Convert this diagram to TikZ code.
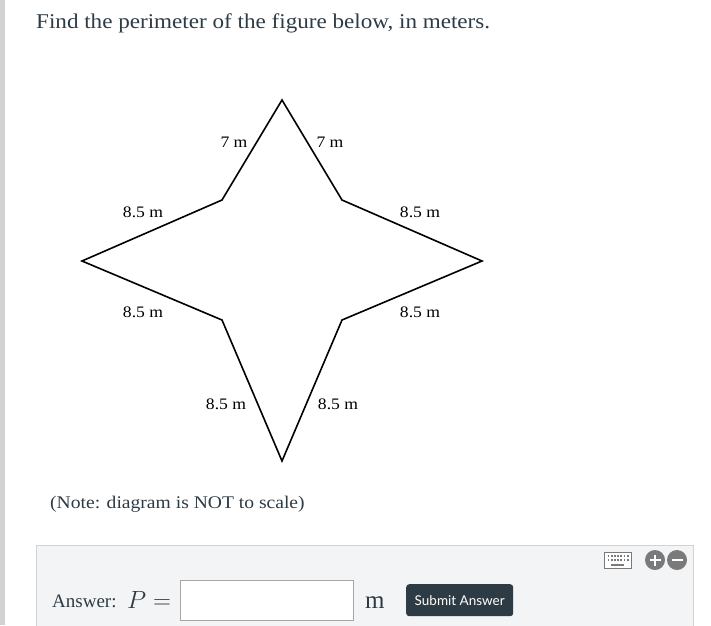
\documentclass[tikz,border=0pt]{standalone}
\usepackage{fontspec}
\setmainfont{Liberation Serif}
\newfontfamily\wideserif{Liberation Serif}[FakeStretch=1.1]
\newfontfamily\uifont{Lato}
\usepackage{amssymb}
\usetikzlibrary{positioning,calc}
\definecolor{inktext}{HTML}{2D3B45}
\definecolor{panelgray}{HTML}{F3F4F5}
\definecolor{iconGray}{HTML}{7A7A7A}

\begin{document}
\begin{tikzpicture}[x=1pt,y=-1pt,
            lbl/.style={font=\wideserif\fontsize{16}{16}\selectfont,text=black,inner sep=0pt},
            edge/.style={line width=1.6pt,line join=miter}]
            \useasboundingbox (0,0) rectangle (711,625);
            \fill[gray!35] (0,0) rectangle (5,625);
            % question
            \node[anchor=base west,inner sep=0pt,text=inktext,font=\wideserif\fontsize{21}{21}\selectfont] (q) at (36,28) {Find the perimeter of the figure below, in meters.};
            % the star
            \coordinate (top) at (282,100);
            \coordinate (tr) at (342,200);
            \coordinate (rgt) at (482,261);
            \coordinate (br) at (342,320);
            \coordinate (bot) at (282,461);
            \coordinate (bl) at (222,320);
            \coordinate (lft) at (82,261);
            \coordinate (tl) at (222,200);
            \draw[edge] (top) -- (tr) -- (rgt) -- (br) -- (bot) -- (bl) -- (lft) -- (tl) -- cycle;
            \node[lbl] (s1) at (234,142) {7 m};
            \node[lbl] (s2) at (330,142) {7 m};
            \node[lbl] (s3) at (143,212) {8.5 m};
            \node[lbl] (s4) at (420,212) {8.5 m};
            \node[lbl] (s5) at (143,312) {8.5 m};
            \node[lbl] (s6) at (420,312) {8.5 m};
            \node[lbl] (s7) at (226,404) {8.5 m};
            \node[lbl] (s8) at (338,404) {8.5 m};
            \node[anchor=base west,inner sep=0pt,text=inktext,font=\wideserif\fontsize{17.8}{18}\selectfont] (note) at (50,508) {(Note: diagram is NOT to scale)};
            % answer panel
            \draw[fill=panelgray,draw=gray!35] (36,545) -- (693,545) -- (693,630) -- (36,630) -- cycle;
            \node[anchor=base west,inner sep=0pt,text=inktext,font=\fontsize{19}{19}\selectfont] (ans) at (52,607) {Answer:};
            \node[anchor=base west,inner sep=0pt,text=inktext,font=\fontsize{25}{25}\selectfont] (peq) at (127,608) {$P=$};
            \node[draw=gray!70,fill=white,minimum width=173pt,minimum height=40pt,anchor=north west,inner sep=0pt] (box) at (180,580) {};
            \node[anchor=base west,inner sep=0pt,text=inktext,font=\fontsize{25}{25}\selectfont] (unit) at (365,608) {$\mathrm{m}$};
            \node[fill=inktext,rounded corners=3pt,text=white,font=\uifont\fontsize{13.5}{14}\selectfont,minimum width=107pt,minimum height=32pt,anchor=north west,inner sep=0pt] (submit) at (406,584) {Submit Answer};
            % icons
            \draw[iconGray,fill=white,line width=1pt] (604,552) rectangle (631,568);
            \foreach \i in {0,...,6} {
                \fill[iconGray] (607.5+3.2*\i,555) rectangle ++(1.8,1.8);
                \fill[iconGray] (607.5+3.2*\i,559) rectangle ++(1.8,1.8);
            }
            \fill[iconGray] (611,563.5) rectangle (624,565.5);
            \fill[iconGray] (655,560) circle (10);
            \fill[iconGray] (677,560) circle (10);
            \draw[white,line width=2.6pt] (649.5,560) -- (660.5,560) (655,554.5) -- (655,565.5);
            \draw[white,line width=2.6pt] (671.5,560) -- (682.5,560);
\end{tikzpicture}
\end{document}
